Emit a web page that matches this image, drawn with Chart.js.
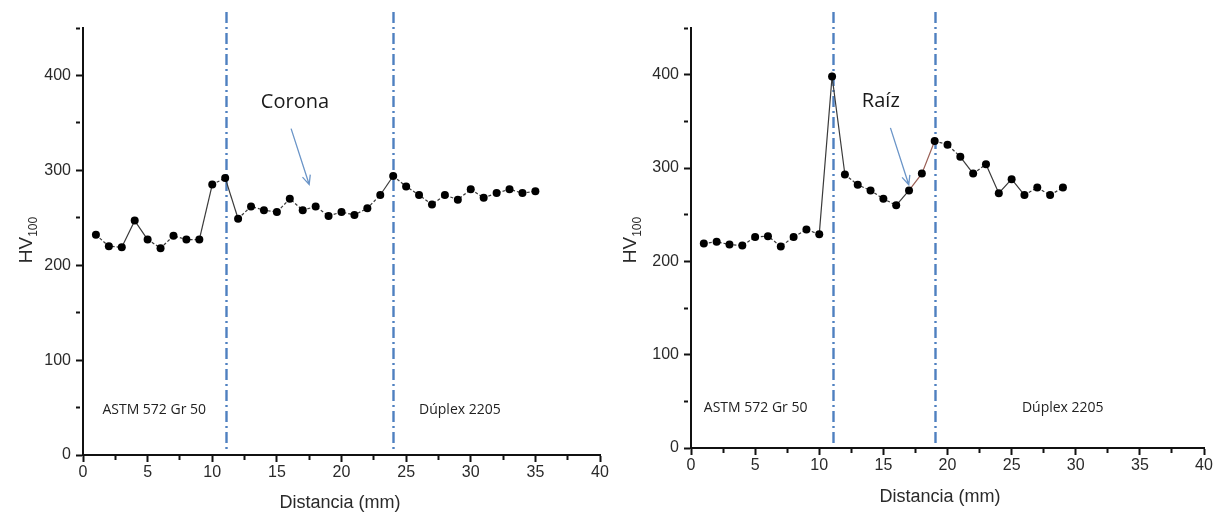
<!DOCTYPE html>
<html>
<head>
<meta charset="utf-8">
<script src="https://cdn.jsdelivr.net/npm/chart.js@4.4.0/dist/chart.umd.min.js"></script>
<style>
  html, body { margin: 0; padding: 0; background: #fff; }
  #wrap { position: relative; width: 1217px; height: 517px; overflow: hidden; }
  .panel { position: absolute; top: 0; }
</style>
</head>
<body>
<div id="wrap">
  <div class="panel" style="left:0px"><canvas id="corona" width="610" height="517"></canvas></div>
  <div class="panel" style="left:610px"><canvas id="raiz" width="607" height="517"></canvas></div>
</div>
<script>
// Microhardness profiles across the weld (HV100 vs distance)
const coronaDist = [1,2,3,4,5,6,7,8,9,10,11,12,13,14,15,16,17,18,19,20,21,22,23,24,25,26,27,28,29,30,31,32,33,34,35];
const coronaHV   = [232,220,219,247,227,218,231,227,227,285,292,249,262,258,256,270,258,262,252,256,253,260,274,294,283,274,264,274,269,280,271,276,280,276,278];

const raizDist = [1,2,3,4,5,6,7,8,9,10,11,12,13,14,15,16,17,18,19,20,21,22,23,24,25,26,27,28,29];
const raizHV   = [219,221,218,217,226,227,216,226,234,229,398,293,282,276,267,260,276,294,329,325,312,294,304,273,288,271,279,271,279];

// Zone boundaries (fusion lines), mm
const coronaLimits = [11.1, 24.0];
const raizLimits   = [11.1, 19.0];

// Stretch of the root profile drawn in a brownish tone (mm)
const raizTintRange = [17, 19];

// Axis ticks
const xMajorTicks = [0,5,10,15,20,25,30,35,40];
const yMajorTicks = [0,100,200,300,400];

// Zone labels and callouts
const zoneLeftLabel  = 'ASTM 572 Gr 50';
const zoneRightLabel = 'Dúplex 2205';
const yTitleMain = 'HV';
const yTitleSub  = '100';
const xTitle = 'Distancia (mm)';

const TICK_FONT = '"Liberation Sans", Arial, sans-serif';
const NOTE_FONT = '"Open Sans", "Liberation Sans", sans-serif';

function overlayPlugin(cfg) {
  return {
    id: 'overlay_' + cfg.id,
    beforeDatasetsDraw(chart) {
      const ctx = chart.ctx, xs = chart.scales.x, area = chart.chartArea;
      // dash-dot vertical boundaries
      ctx.save();
      ctx.strokeStyle = '#4f80c0';
      ctx.lineWidth = 2.4;
      ctx.setLineDash([11, 4, 2, 4]);
      cfg.limits.forEach(v => {
        const px = Math.round(xs.getPixelForValue(v)) + 0.5;
        ctx.beginPath();
        ctx.moveTo(px, area.top - 16);
        ctx.lineTo(px, area.bottom - 2);
        ctx.stroke();
      });
      ctx.restore();
    },
    afterDraw(chart) {
      const ctx = chart.ctx, xs = chart.scales.x, ys = chart.scales.y;
      ctx.save();
      // zone labels
      ctx.fillStyle = '#222';
      ctx.font = '14px ' + NOTE_FONT;
      ctx.textBaseline = 'middle';
      ctx.textAlign = 'left';
      ctx.fillText(zoneLeftLabel, xs.getPixelForValue(cfg.leftLabel[0]), ys.getPixelForValue(cfg.leftLabel[1]));
      ctx.fillText(zoneRightLabel, xs.getPixelForValue(cfg.rightLabel[0]), ys.getPixelForValue(cfg.rightLabel[1]));

      // callout text
      ctx.font = '20px ' + NOTE_FONT;
      ctx.textAlign = 'center';
      ctx.fillStyle = '#1a1a1a';
      ctx.fillText(cfg.note, xs.getPixelForValue(cfg.notePos[0]), ys.getPixelForValue(cfg.notePos[1]));

      // callout arrow
      const x0 = xs.getPixelForValue(cfg.arrow[0]), y0 = ys.getPixelForValue(cfg.arrow[1]);
      const x1 = xs.getPixelForValue(cfg.arrow[2]), y1 = ys.getPixelForValue(cfg.arrow[3]);
      ctx.strokeStyle = '#6b95c8';
      ctx.lineWidth = 1.3;
      ctx.beginPath();
      ctx.moveTo(x0, y0); ctx.lineTo(x1, y1);
      const ang = Math.atan2(y1 - y0, x1 - x0), L = 10, spread = 0.42;
      ctx.moveTo(x1 - L * Math.cos(ang - spread), y1 - L * Math.sin(ang - spread));
      ctx.lineTo(x1, y1);
      ctx.lineTo(x1 - L * Math.cos(ang + spread), y1 - L * Math.sin(ang + spread));
      ctx.stroke();

      // axis titles
      ctx.fillStyle = '#2a2a2a';
      ctx.font = '18px ' + TICK_FONT;
      ctx.textAlign = 'center';
      ctx.textBaseline = 'middle';
      ctx.fillText(xTitle, cfg.xTitlePos[0], cfg.xTitlePos[1]);

      ctx.translate(cfg.yTitlePos[0], cfg.yTitlePos[1]);
      ctx.rotate(-Math.PI / 2);
      ctx.font = '19px ' + TICK_FONT;
      const wMain = ctx.measureText(yTitleMain).width;
      ctx.font = '12px ' + TICK_FONT;
      const wSub = ctx.measureText(yTitleSub).width;
      const start = -(wMain + wSub) / 2;
      ctx.textAlign = 'left';
      ctx.font = '19px ' + TICK_FONT;
      ctx.fillText(yTitleMain, start, 0);
      ctx.font = '12px ' + TICK_FONT;
      ctx.fillText(yTitleSub, start + wMain, 7);
      ctx.restore();
    }
  };
}

function makeChart(canvasId, dist, hv, cfg) {
  const isMajorX = v => xMajorTicks.includes(v);
  const isMajorY = v => yMajorTicks.includes(v);
  const tint = cfg.tint;
  return new Chart(document.getElementById(canvasId), {
    type: 'scatter',
    data: {
      datasets: [{
        data: dist.map((d, i) => ({ x: d, y: hv[i] })),
        showLine: true,
        borderColor: '#3a3a3a',
        borderWidth: 1.2,
        borderDash: [3, 2],
        segment: {
          borderDash: c => Math.abs(c.p1.parsed.y - c.p0.parsed.y) > 14 ? [] : [3, 2],
          borderColor: c => (tint && c.p0.parsed.x >= tint[0] && c.p1.parsed.x <= tint[1]) ? '#9a5f55' : '#3a3a3a'
        },
        pointRadius: 4,
        pointBackgroundColor: '#000',
        pointBorderColor: '#000',
        pointBorderWidth: 0,
        tension: 0
      }]
    },
    options: {
      responsive: false,
      animation: false,
      devicePixelRatio: 1,
      layout: { padding: { top: cfg.top, right: cfg.right, left: 0, bottom: 0 } },
      plugins: { legend: { display: false }, tooltip: { enabled: false } },
      scales: {
        x: {
          type: 'linear', min: 0, max: 40,
          afterFit: s => { s.height = cfg.xAxisHeight; },
          border: { display: true, color: '#111', width: 2 },
          grid: {
            drawOnChartArea: false, drawTicks: true, tickLength: 7,
            tickColor: '#111', tickWidth: 2,
            tickBorderDash: c => (c.tick && isMajorX(c.tick.value)) ? [] : [4, 40]
          },
          ticks: {
            stepSize: 2.5, autoSkip: false, maxRotation: 0, padding: 1,
            color: '#2a2a2a', font: { family: TICK_FONT, size: 16 },
            callback: v => isMajorX(v) ? String(v) : ''
          }
        },
        y: {
          type: 'linear', min: 0, max: 450,
          afterFit: s => { s.width = cfg.yAxisWidth; },
          border: { display: true, color: '#111', width: 2 },
          grid: {
            drawOnChartArea: false, drawTicks: true, tickLength: 7,
            tickColor: '#111', tickWidth: 2,
            tickBorderDash: c => (c.tick && isMajorY(c.tick.value)) ? [] : [4, 40]
          },
          ticks: {
            stepSize: 50, autoSkip: false, padding: 5,
            color: '#2a2a2a', font: { family: TICK_FONT, size: 16 },
            callback: v => isMajorY(v) ? String(v) : ''
          }
        }
      }
    },
    plugins: [overlayPlugin(cfg)]
  });
}

makeChart('corona', coronaDist, coronaHV, {
  id: 'corona', top: 28, right: 10, yAxisWidth: 83, xAxisHeight: 62,
  limits: coronaLimits, tint: null,
  leftLabel: [1.5, 47], rightLabel: [26.0, 47],
  note: 'Corona', notePos: [16.4, 372], arrow: [16.1, 344, 17.5, 285],
  xTitlePos: [340, 503], yTitlePos: [27, 240]
});

makeChart('raiz', raizDist, raizHV, {
  id: 'raiz', top: 28, right: 13, yAxisWidth: 81, xAxisHeight: 69,
  limits: raizLimits, tint: raizTintRange,
  leftLabel: [1.0, 43], rightLabel: [25.8, 43],
  note: 'Raíz', notePos: [14.8, 371], arrow: [15.55, 343, 16.98, 282],
  xTitlePos: [330, 497], yTitlePos: [21, 240]
});
</script>
</body>
</html>
